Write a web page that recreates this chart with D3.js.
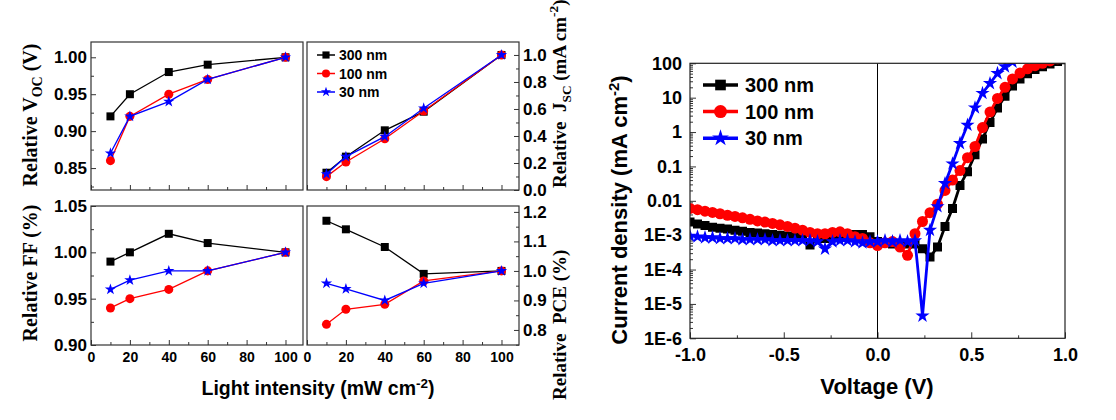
<!DOCTYPE html>
<html lang="en">
<head>
<meta charset="utf-8">
<script src="https://cdn.jsdelivr.net/npm/d3@7"></script>
<style>
  body{margin:0;background:#fff}
  svg text{font-family:"Liberation Sans",Arial,sans-serif;font-weight:bold;fill:#000}
  svg .serif{font-family:"Liberation Serif","Times New Roman",serif}
  .tick line{stroke:#333}
</style>
</head>
<body>
<svg id="chart" width="1116" height="420"></svg>
<script>
// ---- data ----
var seriesNames = ['300 nm','100 nm','30 nm'];
var seriesColors = ['#000000','#ff0000','#0000ff'];

var intensity = [10,20,40,60,100];
var intensityTicks = [0,20,40,60,80,100];

var vocRel = [
  [0.92,0.95,0.98,0.99,1.00],
  [0.86,0.92,0.95,0.97,1.00],
  [0.87,0.92,0.94,0.97,1.00]
];
var jscRel = [
  [0.128,0.247,0.442,0.580,1.00],
  [0.099,0.207,0.380,0.585,1.00],
  [0.118,0.247,0.395,0.605,1.00]
];
var ffRel = [
  [0.99,1.00,1.02,1.01,1.00],
  [0.94,0.95,0.96,0.98,1.00],
  [0.96,0.97,0.98,0.98,1.00]
];
var pceRel = [
  [1.170,1.141,1.081,0.990,1.00],
  [0.819,0.870,0.887,0.966,1.00],
  [0.958,0.939,0.900,0.958,1.00]
];

var vocTicks = [0.85,0.90,0.95,1.00];
var jscTicks = [0.0,0.2,0.4,0.6,0.8,1.0];
var ffTicks  = [0.90,0.95,1.00,1.05];
var pceTicks = [0.8,0.9,1.0,1.1,1.2];

var voltage = [-1.00,-0.96,-0.92,-0.88,-0.84,-0.80,-0.76,-0.72,-0.68,-0.64,
               -0.60,-0.56,-0.52,-0.48,-0.44,-0.40,-0.36,-0.32,-0.28,-0.24,
               -0.20,-0.16,-0.12,-0.08,-0.04, 0.00, 0.04, 0.08, 0.12, 0.16,
                0.20, 0.24, 0.28, 0.32, 0.36, 0.40, 0.44, 0.48, 0.52, 0.56,
                0.60, 0.64, 0.68, 0.72, 0.76, 0.80, 0.84, 0.88, 0.92, 0.96, 1.00];
var j300 = [2.4e-3,2.1e-3,1.9e-3,1.7e-3,1.6e-3,1.5e-3,1.4e-3,1.3e-3,1.2e-3,1.15e-3,
            1.1e-3,1.05e-3,1.0e-3,9.5e-4,9e-4,8.5e-4,5.2e-4,8e-4,8e-4,8.5e-4,
            9e-4,1.0e-3,1.05e-3,1.05e-3,9e-4,6.5e-4,6e-4,5.5e-4,5.5e-4,5.5e-4,
            5.5e-4,4e-4,2.3e-4,4.5e-4,1.8e-3,6e-3,2.8e-2,7e-2,0.22,0.63,
            1.9,5,11,22,35,50,66,79,95,112,126];
var j100 = [6.0e-3,5.5e-3,5.0e-3,4.6e-3,4.2e-3,3.8e-3,3.5e-3,3.2e-3,2.9e-3,2.6e-3,
            2.4e-3,2.2e-3,2.0e-3,1.8e-3,1.6e-3,1.4e-3,1.2e-3,1.1e-3,1.1e-3,1.2e-3,
            1.25e-3,1.1e-3,9e-4,8e-4,6e-4,5e-4,6e-4,6.5e-4,4.5e-4,2.6e-4,
            1.1e-3,2.5e-3,4.5e-3,8e-3,2.0e-2,4.0e-2,7.6e-2,0.18,0.38,1.35,
            3.8,9.5,20,35,52,69,85,100,117,135,150];
var j30  = [9.5e-4,9e-4,8.5e-4,8.5e-4,8e-4,8e-4,8e-4,7.5e-4,7.5e-4,7.5e-4,
            7.5e-4,7e-4,7e-4,7e-4,7e-4,7e-4,7e-4,6.5e-4,4e-4,6.5e-4,
            7e-4,7e-4,6.5e-4,6e-4,6.5e-4,6.5e-4,7e-4,6.5e-4,7e-4,6.5e-4,
            7e-4,4.5e-6,1.4e-3,6.8e-3,3.2e-2,0.12,0.47,1.6,5.1,13.5,
            26,51,80,110,140,170,200,230,260,290,320];

var voltTicks = [-1.0,-0.5,0.0,0.5,1.0];
var voltTickLabels = ['-1.0','-0.5','0.0','0.5','1.0'];
var jTickValues = [100,10,1,0.1,0.01,1e-3,1e-4,1e-5,1e-6];
var jTickLabels = ['100','10','1','0.1','0.01','1E-3','1E-4','1E-5','1E-6'];

// ---- drawing ----
var svg = d3.select('#chart');
var shapes = [d3.symbolSquare, d3.symbolCircle, d3.symbolStar];

function cleanAxis(sel){
  sel.attr('font-family',null).attr('font-size',null);
  sel.select('.domain').remove();
}

function drawSeries(g, x, y, xs, ys, i, lw, sizes){
  var pts = xs.map(function(v,k){return [v, ys[k]];});
  g.append('path')
   .datum(pts)
   .attr('fill','none')
   .attr('stroke',seriesColors[i])
   .attr('stroke-width',lw)
   .attr('d',d3.line().x(function(d){return x(d[0])}).y(function(d){return y(d[1])}));
  g.selectAll('path.m'+i)
   .data(pts)
   .enter()
   .append('path')
   .attr('class','m'+i)
   .attr('fill',seriesColors[i])
   .attr('transform',function(d){return 'translate('+x(d[0])+','+y(d[1])+')'})
   .attr('d',d3.symbol().type(shapes[i]).size(sizes[i]));
}

var smallSizes = [64,64,40];

function smallPanel(p){
  var x = d3.scaleLinear().domain([0,109]).range([p.x0,p.x1]);
  var y = d3.scaleLinear().domain(p.dom).range([p.y1,p.y0]);
  var g = svg.append('g');

  // minor then major ticks, bottom
  g.append('g').attr('transform','translate(0,'+p.y1+')')
   .call(d3.axisBottom(x).tickValues(d3.range(10,101,20)).tickSize(-3).tickFormat(''))
   .call(cleanAxis);
  var xa = g.append('g').attr('transform','translate(0,'+p.y1+')')
   .call(d3.axisBottom(x).tickValues(intensityTicks).tickSize(-5).tickPadding(7)
         .tickFormat(p.xlab ? d3.format('d') : ''))
   .call(cleanAxis);
  xa.selectAll('text').style('font-size','14px');

  var side = p.right ? d3.axisRight : d3.axisLeft;
  var yPos = p.right ? p.x1 : p.x0;
  var step = p.ticks[1]-p.ticks[0];
  var minor = [];
  p.ticks.forEach(function(t){ minor.push(t+step/2); });
  minor.push(p.ticks[0]-step/2);
  minor = minor.filter(function(v){return v>p.dom[0] && v<p.dom[1];});
  g.append('g').attr('transform','translate('+yPos+',0)')
   .call(side(y).tickValues(minor).tickSize(-3).tickFormat(''))
   .call(cleanAxis);
  var ya = g.append('g').attr('transform','translate('+yPos+',0)')
   .call(side(y).tickValues(p.ticks).tickSize(-5).tickPadding(4).tickFormat(d3.format(p.fmt)))
   .call(cleanAxis);
  ya.selectAll('text').style('font-size','17px');

  g.append('rect')
   .attr('x',p.x0).attr('y',p.y0)
   .attr('width',p.x1-p.x0).attr('height',p.y1-p.y0)
   .attr('fill','none').attr('stroke','#333').attr('stroke-width',1.2);

  p.data.forEach(function(vals,i){
    drawSeries(g, x, y, intensity, vals, i, 1.3, smallSizes);
  });
  return g;
}

smallPanel({x0:91,x1:303,y0:42,y1:190,dom:[0.8203,1.0207],ticks:vocTicks,fmt:'.2f',data:vocRel,xlab:false,right:false});
smallPanel({x0:307,x1:519,y0:42,y1:190,dom:[0,1.096],ticks:jscTicks,fmt:'.1f',data:jscRel,xlab:false,right:true});
smallPanel({x0:91,x1:303,y0:206,y1:345,dom:[0.90,1.05],ticks:ffTicks,fmt:'.2f',data:ffRel,xlab:true,right:false});
smallPanel({x0:307,x1:519,y0:206,y1:345,dom:[0.749,1.22],ticks:pceTicks,fmt:'.1f',data:pceRel,xlab:true,right:true});

// small legend
var leg1 = svg.append('g');
seriesNames.forEach(function(n,i){
  var yy = 55 + i*18.5;
  leg1.append('line').attr('x1',317).attr('x2',335).attr('y1',yy).attr('y2',yy)
      .attr('stroke',seriesColors[i]).attr('stroke-width',1.5);
  leg1.append('path').attr('transform','translate(326,'+yy+')')
      .attr('fill',seriesColors[i])
      .attr('d',d3.symbol().type(shapes[i]).size(smallSizes[i]*0.8));
  leg1.append('text').attr('x',339).attr('y',yy).attr('dy','0.36em')
      .style('font-size','14px').text(n);
});

// axis titles of the small panels
function rotLabel(x, y, anchor, parts, size){
  var t = svg.append('text').attr('class','serif')
     .attr('transform','translate('+x+','+y+') rotate(-90)')
     .attr('text-anchor',anchor)
     .style('font-size',size+'px')
     .attr('xml:space','preserve');
  parts.forEach(function(p){
    var s = t.append('tspan').text(p[0]);
    if(p[1]==='sub'){ s.style('font-size',(size*0.7)+'px').attr('dy',size*0.25); }
    else if(p[1]==='sup'){ s.style('font-size',(size*0.7)+'px').attr('dy',-size*0.4); }
    else if(p[1]==='back'){ s.attr('dy',p[2]); }
  });
  return t;
}
rotLabel(37,115,'middle',[['Relative V'],['OC','sub'],[' (V)','back',-5]],20);
rotLabel(37,273,'middle',[['Relative FF (%)']],20);
rotLabel(566,188,'start',[['Relative  J'],['SC','sub'],[' (mA cm','back',-4.75],['-2','sup'],[')','back',7.6]],19);
rotLabel(566,400,'start',[['Relative  PCE (%)']],19);

var xl = svg.append('text').attr('x',318).attr('y',395).attr('text-anchor','middle')
   .style('font-size','19.5px');
xl.append('tspan').text('Light intensity (mW cm');
xl.append('tspan').text('-2').style('font-size','13.5px').attr('dy',-7);
xl.append('tspan').text(')').attr('dy',7);

// ---- J-V panel ----
var jv = {x0:690,x1:1065,y0:63.3,y1:338.3};
var xv = d3.scaleLinear().domain([-1,1]).range([jv.x0,jv.x1]);
var yj = d3.scaleLog().domain([1e-6,100]).range([jv.y1,jv.y0]);
var gj = svg.append('g');

gj.append('clipPath').attr('id','jvclip').append('rect')
  .attr('x',jv.x0).attr('y',jv.y0).attr('width',jv.x1-jv.x0).attr('height',jv.y1-jv.y0);

var logMinor = [];
jTickValues.slice(1).forEach(function(d){
  for(var m=2;m<10;m++){ logMinor.push(d*m); }
});
gj.append('g').attr('transform','translate('+jv.x0+',0)')
  .call(d3.axisLeft(yj).tickValues(logMinor).tickSize(-3).tickFormat(''))
  .call(cleanAxis);
var yja = gj.append('g').attr('transform','translate('+jv.x0+',0)')
  .call(d3.axisLeft(yj).tickValues(jTickValues).tickSize(-6).tickPadding(8)
        .tickFormat(function(d,i){return jTickLabels[i]}))
  .call(cleanAxis);
yja.selectAll('text').style('font-size','18px');

gj.append('g').attr('transform','translate(0,'+jv.y1+')')
  .call(d3.axisBottom(xv).tickValues([-0.75,-0.25,0.25,0.75]).tickSize(-3).tickFormat(''))
  .call(cleanAxis);
var xja = gj.append('g').attr('transform','translate(0,'+jv.y1+')')
  .call(d3.axisBottom(xv).tickValues(voltTicks).tickSize(-6).tickPadding(10)
        .tickFormat(function(d,i){return voltTickLabels[i]}))
  .call(cleanAxis);
xja.selectAll('text').style('font-size','18px');

gj.append('line').attr('x1',xv(0)).attr('x2',xv(0)).attr('y1',jv.y0).attr('y2',jv.y1)
  .attr('stroke','#000').attr('stroke-width',1);

var bigSizes = [81,95,63];
var plotJ = gj.append('g').attr('clip-path','url(#jvclip)');
[j300,j100,j30].forEach(function(vals,i){
  drawSeries(plotJ, xv, yj, voltage, vals, i, 2.8, bigSizes);
});

gj.append('rect')
  .attr('x',jv.x0).attr('y',jv.y0).attr('width',jv.x1-jv.x0).attr('height',jv.y1-jv.y0)
  .attr('fill','none').attr('stroke','#222').attr('stroke-width',1.2);

// J-V legend
var leg2 = svg.append('g');
seriesNames.forEach(function(n,i){
  var yy = 85 + i*26.6;
  leg2.append('line').attr('x1',703).attr('x2',738).attr('y1',yy).attr('y2',yy)
      .attr('stroke',seriesColors[i]).attr('stroke-width',3.5);
  leg2.append('path').attr('transform','translate(720.5,'+yy+')')
      .attr('fill',seriesColors[i])
      .attr('d',d3.symbol().type(shapes[i]).size(bigSizes[i]*1.4));
  leg2.append('text').attr('x',745).attr('y',yy).attr('dy','0.36em')
      .style('font-size','20px').text(n);
});

// J-V axis titles
var yt = svg.append('text')
  .attr('transform','translate(627,210) rotate(-90)')
  .attr('text-anchor','middle').style('font-size','22px');
yt.append('tspan').text('Current density (mA cm');
yt.append('tspan').text('-2').style('font-size','15px').attr('dy',-8);
yt.append('tspan').text(')').attr('dy',8);

svg.append('text').attr('x',877).attr('y',394).attr('text-anchor','middle')
  .style('font-size','22px').text('Voltage (V)');
</script>
</body>
</html>
